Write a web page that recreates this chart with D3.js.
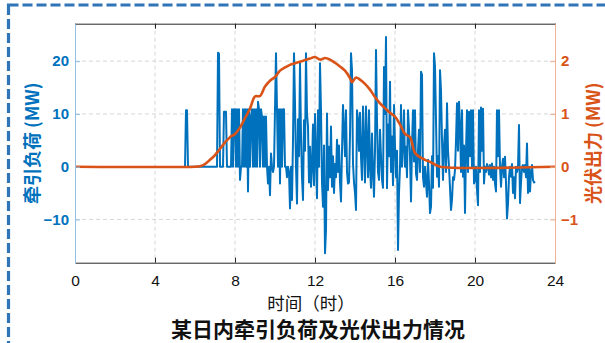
<!DOCTYPE html>
<html>
<head>
<meta charset="utf-8">
<script src="https://cdn.jsdelivr.net/npm/d3@7"></script>
<style>
  html, body { margin: 0; padding: 0; background: #fff; }
  svg { display: block; }
</style>
</head>
<body>
<svg id="chart" width="605" height="343"></svg>
<script>
// ---- data ----
const xTicks = [0, 4, 8, 12, 16, 20, 24];
const loadTicks = [-10, 0, 10, 20];
const pvTicks = [-1, 0, 1, 2];

// traction load (MW), sampled every 0.05 h starting at 5.5 h
const loadStart = 5.5;
const loadStep = 0.05;
const loadValues = [
  0,10.7,10.7,0,0,0,0,0,0,0,0,0,0,0,0,0,0,0,0,0,
  0,0,0,0,0,0,0,0,0,0,0,0,0,21.6,21.4,0,0,0,0,10.4,
  10.4,10.4,0,0,0,0,0,10.9,0,10.9,10.9,0,10.9,0,10.9,-2.5,0,0,10.9,0,
  10.9,0,10.9,-4.7,10.9,0,9.5,10.9,0,10.9,0,10.9,0,12.3,10.9,0,10.9,9.5,0,9.5,
  0,9.5,0,-3.2,0,-5.4,2.5,0,-1,0,10.9,21.5,10.9,0,10.9,-3.2,10.9,0,10.9,10.9,
  0,0,-2,0,-1,-7.9,0,-6.3,5,21.5,12,0,-7,9,2,19.6,6,-2,-6.3,8.8,
  3,21.5,10,7.6,-3,3.8,-3.8,0,8,-3.5,10,2,-6,10.7,0,19.6,10.7,-3,-7.6,4,
  -16.4,-12,10.1,-4.4,3.8,-2,7.6,-3.8,2,-5,0.5,-2,5.1,-1,4,-3,-6.6,3,11.7,7,
  2,10.7,-1,-3.2,-3,6,21.5,18.3,0.6,-3,-5,-8.2,10.7,8.8,3,10.2,1.9,-2.5,11.4,4,
  -3,11.4,4.4,-2,10.7,0,-4,6.3,-1,-5.7,3,22.1,8.8,-1,-2.5,7,2,-2.5,-4,18.9,
  10,24.6,-4.1,8,2,16.1,-1,5.7,-3.5,11.7,4,-2,3,-15.8,-5,0,11.7,0,3.8,10.7,
  0,3.8,-2,10.7,7,2,-6.6,4,10.7,1,10.7,-1.3,-2.5,3,7,-1,18,17.4,-2,-3.8,
  0,-3,-5.7,1.3,-3,-8.8,-7.6,2,-4,21.5,19,8.8,-1.9,2,-3.8,18.3,14.5,5,-2.5,4,
  7,-1,12,3,0,-4,-8.2,-6.3,-2,-2.5,-0.6,5,12,3,12.3,7.6,-1,10.7,-1.9,4,
  -8.8,3,10.7,-1,10.4,2,10.7,0,10.7,-3.2,-2.5,0,-4.4,-7.3,10.7,-1,11.2,3,11,-3.2,
  0,-1,0.5,0,-1.5,0.3,-2,0.6,-2.5,0,-3.2,-4.7,10.7,2,10.7,0,-3.8,0,1.5,-2,
  1.9,-3,-9.8,-7,-2,0,-1.9,0.5,-5,-2,-6,0,-1,0,7.9,-6.9,-3,0,0.3,-1,
  0.3,-2,4.4,-5,0,-4.7,-1,0.3,-2.5,-3,-2.8
];

// PV output (MW)
const pvHours = [0,6.0,6.25,6.5,6.75,7.0,7.25,7.5,7.75,8.0,8.25,8.5,8.75,9.0,9.25,9.5,9.75,10.0,
  10.25,10.5,10.75,11.0,11.25,11.5,11.75,12.0,12.25,12.5,12.75,13.0,13.25,13.5,13.75,13.85,14.05,
  14.25,14.5,14.75,15.0,15.25,15.5,15.75,16.0,16.25,16.5,16.75,17.0,17.25,17.5,17.75,18.0,18.25,24];
const pvValues = [0,0,0.01,0.05,0.13,0.22,0.34,0.46,0.56,0.62,0.74,0.92,1.1,1.33,1.34,1.52,1.63,1.70,
  1.82,1.88,1.93,1.96,1.99,2.02,2.05,2.08,2.03,2.06,2.03,1.97,1.90,1.82,1.68,1.60,1.69,
  1.65,1.57,1.46,1.32,1.20,1.11,1.02,0.95,0.80,0.62,0.56,0.26,0.18,0.13,0.09,0.04,0,0];

const title = "某日内牵引负荷及光伏出力情况";
const xTitle = "时间（时）";
const leftTitle = "牵引负荷 (MW)";
const rightTitle = "光伏出力 (MW)";

// ---- layout ----
const blue = "#0072BD", orange = "#D95319";
const plot = { left: 75, right: 555, top: 23.7, bottom: 262.7 };
const svg = d3.select("#chart");
const latin = "'Liberation Sans', Arial, Helvetica, sans-serif";
const cjk = "'Noto Sans CJK SC', 'Liberation Sans', sans-serif";

const x = d3.scaleLinear().domain([0, 24]).range([plot.left, plot.right]);
const yL = d3.scaleLinear().domain([-18.2, 27.1]).range([plot.bottom, plot.top]);
const yR = d3.scaleLinear().domain([-1.82, 2.71]).range([plot.bottom, plot.top]);

// outer dashed frame
svg.append("rect")
  .attr("x", 8.5).attr("y", 5).attr("width", 640).attr("height", 380)
  .attr("fill", "none").attr("stroke", "#2f75b8")
  .attr("stroke-width", 3.2).attr("stroke-dasharray", "10,4");

// grid
const grid = svg.append("g").attr("stroke", "#d6d6d6").attr("stroke-width", 1)
  .attr("stroke-dasharray", "4,3");
grid.selectAll("line.v").data(xTicks.filter(d => d > 0 && d < 24)).join("line")
  .attr("x1", d => x(d)).attr("x2", d => x(d))
  .attr("y1", plot.top).attr("y2", plot.bottom);
grid.selectAll("line.h").data(loadTicks).join("line")
  .attr("x1", plot.left).attr("x2", plot.right)
  .attr("y1", d => yL(d)).attr("y2", d => yL(d));

// series
const loadData = loadValues.map((v, i) => [loadStart + i * loadStep, v]);
const pvData = pvHours.map((h, i) => [h, pvValues[i]]);

svg.append("path").datum(loadData)
  .attr("fill", "none").attr("stroke", blue).attr("stroke-width", 2)
  .attr("stroke-linejoin", "round")
  .attr("d", d3.line().x(d => x(d[0])).y(d => yL(d[1])));

svg.append("path").datum(pvData)
  .attr("fill", "none").attr("stroke", orange).attr("stroke-width", 2.6)
  .attr("stroke-linejoin", "round")
  .attr("d", d3.line().x(d => x(d[0])).y(d => yR(d[1])).curve(d3.curveCatmullRom.alpha(0.5)));

// axes
const xAxis = svg.append("g").attr("transform", `translate(0,${plot.bottom})`)
  .call(d3.axisBottom(x).tickValues(xTicks).tickSizeInner(-5).tickSizeOuter(0).tickPadding(12));
xAxis.select(".domain").attr("stroke", "#262626");
xAxis.selectAll(".tick line").attr("stroke", "#262626");
xAxis.selectAll("text").attr("font-family", latin).attr("font-size", 15.5).attr("fill", "#111");

const topAxis = svg.append("g").attr("transform", `translate(0,${plot.top})`)
  .call(d3.axisTop(x).tickValues(xTicks).tickSizeInner(-5).tickSizeOuter(0).tickFormat(""));
topAxis.select(".domain").attr("stroke", "#262626");
topAxis.selectAll(".tick line").attr("stroke", "#262626");

const leftAxis = svg.append("g").attr("transform", `translate(${plot.left},0)`)
  .call(d3.axisLeft(yL).tickValues(loadTicks).tickFormat(d3.format("d"))
    .tickSizeInner(-5).tickSizeOuter(0).tickPadding(6));
leftAxis.select(".domain").attr("stroke", "#8fbfe3");
leftAxis.selectAll(".tick line").attr("stroke", "#8fbfe3");
leftAxis.selectAll("text").attr("font-family", latin).attr("font-size", 15)
  .attr("font-weight", "bold").attr("fill", blue);

const rightAxis = svg.append("g").attr("transform", `translate(${plot.right},0)`)
  .call(d3.axisRight(yR).tickValues(pvTicks).tickFormat(d3.format("d"))
    .tickSizeInner(-5).tickSizeOuter(0).tickPadding(6));
rightAxis.select(".domain").attr("stroke", "#f0b296");
rightAxis.selectAll(".tick line").attr("stroke", "#f0b296");
rightAxis.selectAll("text").attr("font-family", latin).attr("font-size", 15)
  .attr("font-weight", "bold").attr("fill", orange);

// titles
const midY = (plot.top + plot.bottom) / 2;
svg.append("text").attr("transform", `translate(31,${midY}) rotate(-90)`)
  .attr("text-anchor", "middle").attr("dominant-baseline", "central")
  .attr("font-family", cjk).attr("font-size", 18).attr("font-weight", "bold")
  .attr("fill", blue).text(leftTitle);

svg.append("text").attr("transform", `translate(592,${midY}) rotate(-90)`)
  .attr("text-anchor", "middle").attr("dominant-baseline", "central")
  .attr("font-family", cjk).attr("font-size", 18).attr("font-weight", "bold")
  .attr("fill", orange).text(rightTitle);

svg.append("text").attr("x", 311).attr("y", 310)
  .attr("text-anchor", "middle")
  .attr("font-family", cjk).attr("font-size", 17.5).attr("fill", "#111")
  .text(xTitle);

svg.append("text").attr("x", 318).attr("y", 337)
  .attr("text-anchor", "middle")
  .attr("font-family", cjk).attr("font-size", 21).attr("font-weight", "bold").attr("fill", "#111")
  .text(title);
</script>
</body>
</html>
